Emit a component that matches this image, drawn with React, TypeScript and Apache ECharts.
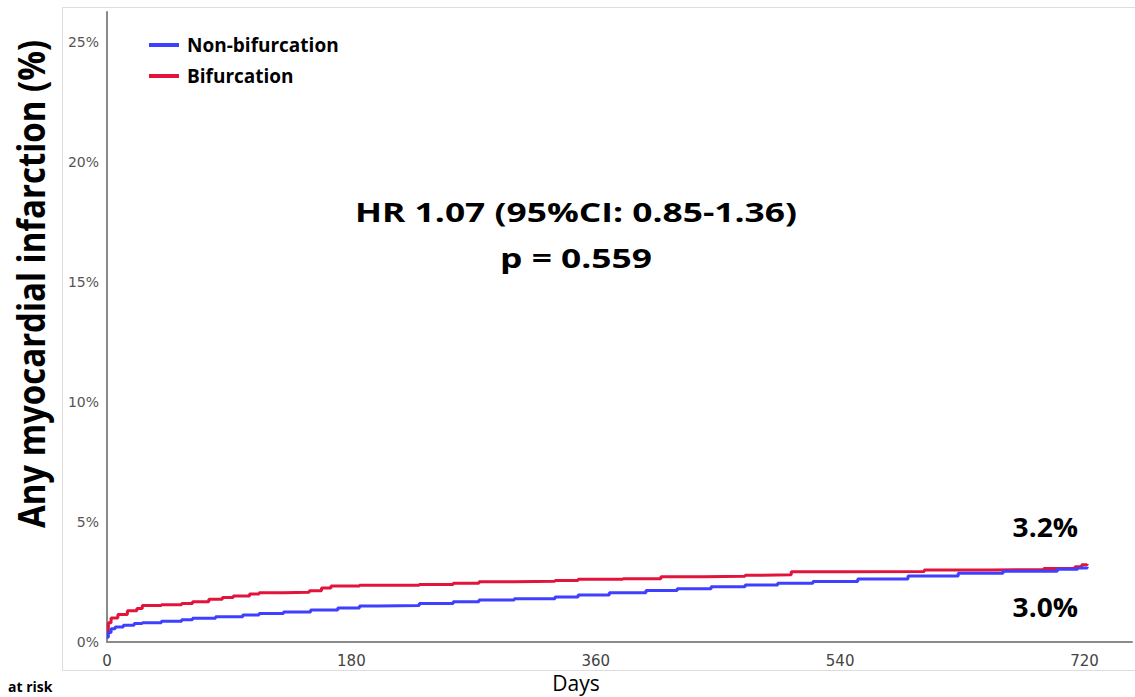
import React, { useEffect, useRef } from "react";
import * as echarts from "echarts";

// Kaplan-Meier style cumulative incidence (%)
const nonBifDays = [0, 1, 3, 6, 12, 20, 26, 40, 55, 63, 80, 100, 112, 130, 150, 170, 186, 200, 230, 255, 274, 300, 330, 347, 370, 397, 420, 445, 470, 494, 520, 553, 590, 627, 660, 700, 715, 722];
const nonBifValues = [0.2, 0.4, 0.55, 0.62, 0.7, 0.77, 0.8, 0.86, 0.93, 0.99, 1.05, 1.12, 1.19, 1.25, 1.33, 1.42, 1.5, 1.52, 1.6, 1.68, 1.75, 1.8, 1.88, 1.96, 2.05, 2.15, 2.22, 2.3, 2.38, 2.45, 2.52, 2.62, 2.75, 2.86, 2.95, 3.03, 3.08, 3.14];

const bifDays = [0, 1, 3, 8, 15, 22, 26, 40, 55, 63, 75, 85, 93, 105, 112, 130, 149, 158, 165, 186, 200, 230, 255, 274, 300, 330, 347, 380, 408, 440, 470, 480, 504, 540, 602, 650, 690, 713, 718, 722];
const bifValues = [0.45, 0.8, 1.0, 1.15, 1.3, 1.4, 1.52, 1.55, 1.6, 1.68, 1.78, 1.85, 1.92, 2.0, 2.05, 2.07, 2.14, 2.25, 2.33, 2.36, 2.36, 2.4, 2.45, 2.51, 2.53, 2.56, 2.61, 2.64, 2.72, 2.74, 2.78, 2.8, 2.93, 2.94, 3.0, 3.02, 3.06, 3.14, 3.22, 3.25];

const xTicks = [0, 180, 360, 540, 720];
const yTicks = [0, 5, 10, 15, 20, 25];
const seriesNames = ["Non-bifurcation", "Bifurcation"];
const endLabels = ["3.2%", "3.0%"];
const yTitle = "Any myocardial infarction (%)";
const hrText = "HR 1.07 (95%CI: 0.85-1.36)";
const pText = "p = 0.559";
const xTitle = "Days";
const atRisk = "at risk";

const BLUE = "#3f3fff";
const RED = "#e2143c";
const BOLD_FONT = "'Open Sans', 'Noto Sans', sans-serif";

export default function App() {
  const ref = useRef<HTMLDivElement>(null);

  useEffect(() => {
    document.body.style.margin = "0";
    if (!ref.current) return;
    const chart = echarts.init(ref.current, null, { renderer: "svg" });

    const pairs = (d: number[], v: number[]) => d.map((x, i) => [x, v[i]]);

    const textStyle = (text: string, size: number, weight: string, align: string, vAlign: string) => ({
      text,
      fontSize: size,
      fontWeight: weight,
      fontFamily: BOLD_FONT,
      fill: "#000",
      align,
      verticalAlign: vAlign,
      textAlign: align,
      textVerticalAlign: vAlign,
    });

    chart.setOption({
      animation: false,
      backgroundColor: "#fff",
      grid: { left: 107, right: 0, top: 12, bottom: 55, containLabel: false },
      legend: {
        data: seriesNames,
        orient: "vertical",
        left: 144,
        top: 30,
        icon: "rect",
        itemWidth: 30,
        itemHeight: 4,
        itemGap: 11,
        textStyle: {
          fontFamily: BOLD_FONT,
          fontWeight: "bold",
          fontSize: 19,
          color: "#000",
          padding: [0, 0, 0, 3],
          lineHeight: 20,
        },
      },
      xAxis: {
        type: "value",
        min: 0,
        max: 755,
        interval: 180,
        axisLine: { lineStyle: { color: "#8a8a8a", width: 2 } },
        axisTick: { show: false },
        splitLine: { show: false },
        axisLabel: {
          margin: 11,
          color: "#444",
          fontFamily: "'DejaVu Sans', sans-serif",
          fontSize: 15,
          formatter: (v: number) => (xTicks.includes(v) ? String(v) : ""),
        },
      },
      yAxis: {
        type: "value",
        min: 0,
        max: 26.25,
        interval: 5,
        axisLine: { show: true, lineStyle: { color: "#8a8a8a", width: 2 } },
        axisTick: { show: false },
        splitLine: { show: false },
        axisLabel: {
          margin: 8,
          color: "#555",
          fontFamily: "'DejaVu Sans', sans-serif",
          fontSize: 14,
          formatter: (v: number) => (yTicks.includes(v) ? v + "%" : ""),
        },
      },
      series: [
        {
          name: seriesNames[1],
          type: "line",
          step: "end",
          showSymbol: false,
          symbol: "none",
          color: RED,
          lineStyle: { color: RED, width: 3 },
          data: pairs(bifDays, bifValues),
        },
        {
          name: seriesNames[0],
          type: "line",
          step: "end",
          showSymbol: false,
          symbol: "none",
          color: BLUE,
          lineStyle: { color: BLUE, width: 3 },
          data: pairs(nonBifDays, nonBifValues),
        },
      ],
      graphic: [
        {
          type: "rect",
          silent: true,
          z: -10,
          shape: { x: 62.5, y: 7.5, width: 1200, height: 663 },
          style: { fill: "none", stroke: "#dddddd", lineWidth: 1 },
        },
        {
          type: "text",
          x: 31,
          y: 284,
          rotation: Math.PI / 2,
          scaleY: 1.12,
          style: textStyle(yTitle, 33, "bold", "center", "middle"),
        },
        {
          type: "text",
          x: 576,
          y: 212,
          scaleX: 1.36,
          style: textStyle(hrText, 26, "bold", "center", "middle"),
        },
        {
          type: "text",
          x: 576,
          y: 258,
          scaleX: 1.36,
          style: textStyle(pText, 26, "bold", "center", "middle"),
        },
        {
          type: "text",
          x: 1078,
          y: 527,
          scaleX: 1.08,
          style: textStyle(endLabels[0], 26, "bold", "right", "middle"),
        },
        {
          type: "text",
          x: 1078,
          y: 607,
          scaleX: 1.08,
          style: textStyle(endLabels[1], 26, "bold", "right", "middle"),
        },
        {
          type: "text",
          x: 576,
          y: 693,
          style: textStyle(xTitle, 21, "normal", "center", "bottom"),
        },
        {
          type: "text",
          x: 8,
          y: 693,
          style: textStyle(atRisk, 14, "bold", "left", "bottom"),
        },
      ],
    });

    return () => chart.dispose();
  }, []);

  return <div ref={ref} style={{ width: 1135, height: 697 }} />;
}
